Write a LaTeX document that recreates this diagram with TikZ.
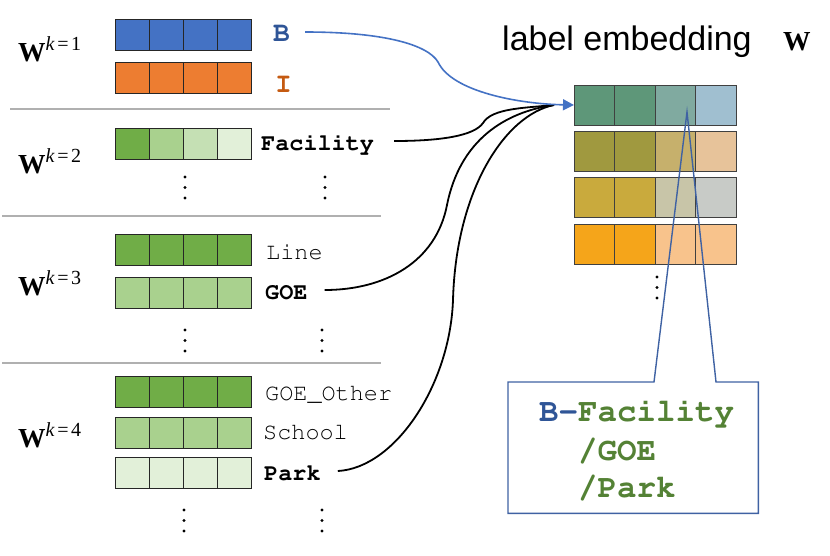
\documentclass[tikz,border=0pt]{standalone}
\usepackage{fix-cm}
\usepackage[T1]{fontenc}
\usepackage{fontspec}
\setsansfont{Liberation Sans}
\newfontfamily\wfont{Liberation Serif}
\usetikzlibrary{arrows.meta}
\newcommand\cour{\fontencoding{T1}\fontfamily{pcr}\selectfont}
\definecolor{gD}{HTML}{70AD47}
\definecolor{gM}{HTML}{A9D18E}
\definecolor{gL}{HTML}{C5E0B4}
\definecolor{gX}{HTML}{E2F0D9}
\definecolor{bB}{HTML}{4472C4}
\definecolor{oO}{HTML}{ED7D31}
\definecolor{tB}{HTML}{2F5597}
\definecolor{tO}{HTML}{C55A11}
\definecolor{tG}{HTML}{548235}
\definecolor{sep}{HTML}{B0B0B0}
\definecolor{cbl}{HTML}{3F62A3}
\definecolor{eA}{HTML}{5E9779}\definecolor{eB}{HTML}{80AAA0}\definecolor{eC}{HTML}{A0BFD0}
\definecolor{eD}{HTML}{A0993F}\definecolor{eE}{HTML}{C6B06C}\definecolor{eF}{HTML}{E7C39A}
\definecolor{eG}{HTML}{C9AA3D}\definecolor{eH}{HTML}{C8C5A8}\definecolor{eI}{HTML}{C8CBC7}
\definecolor{eJ}{HTML}{F5A51A}\definecolor{eK}{HTML}{F8C38C}
\newcommand\lrow[6]{\foreach \cc [count=\ii from 0] in {#3,#4,#5,#6}{\node[lcell, fill=\cc] (#1-\ii) at ({115+34*\ii},#2) {};}}
\newcommand\erow[6]{\foreach \cc [count=\ii from 0] in {#3,#4,#5,#6}{\node[ecell, fill=\cc] (#1-\ii) at ({574+40.5*\ii},#2) {};}}
\newcommand\vdts[2]{\foreach \dd in {0,10.5,21}{\fill (#1,#2+\dd) circle (1.6);}}
\newcommand\wk[1]{{\wfont\fontsize{27.5}{30}\selectfont\bfseries W}\raisebox{11pt}{\wfont\fontsize{20}{22}\selectfont\textit{k}\kern2.5pt=\kern2.5pt#1}}
\begin{document}
\begin{tikzpicture}[x=1pt,y=-1pt,
  lcell/.style={draw=black!85, line width=0.9pt, inner sep=0, outer sep=0, anchor=north west, minimum width=34pt, minimum height=31pt},
  ecell/.style={draw=black!75, line width=0.9pt, inner sep=0, outer sep=0, anchor=north west, minimum width=40.5pt, minimum height=40pt},
  lab/.style={font=\fontsize{23.5}{28}\cour, anchor=base west, inner sep=0},
  labb/.style={font=\fontsize{23.5}{28}\cour\bfseries, anchor=base west, inner sep=0},
  labB/.style={font=\fontsize{28}{30}\cour\bfseries, anchor=base west, inner sep=0},
  wlab/.style={anchor=base west, inner sep=0},
  clab/.style={font=\fontsize{32.5}{38}\cour\bfseries, anchor=base west, inner sep=0, text=tG},
  sepline/.style={draw=sep, line width=2pt},
  conn/.style={draw=black, line width=1.8pt},
  bconn/.style={draw=bB, line width=1.6pt, -{Triangle[length=11pt,width=11pt]}},
]
\useasboundingbox (0,0) rectangle (830,555);
% separators
\draw[sepline] (10,109) -- (390,109);
\draw[sepline] (2,216) -- (381,216);
\draw[sepline] (2,363) -- (381,363);
% W labels
\node[wlab] (w1) at (18,61) {\wk{1}};
\node[wlab] (w2) at (18,173) {\wk{2}};
\node[wlab] (w3) at (18,295) {\wk{3}};
\node[wlab] (w4) at (18,447) {\wk{4}};
% left rows
\lrow{rB}{19}{bB}{bB}{bB}{bB}
\lrow{rI}{62}{oO}{oO}{oO}{oO}
\lrow{rF}{128}{gD}{gM}{gL}{gX}
\lrow{rL}{234}{gD}{gD}{gD}{gD}
\lrow{rG}{277}{gM}{gM}{gM}{gM}
\lrow{rO}{376}{gD}{gD}{gD}{gD}
\lrow{rS}{417}{gM}{gM}{gM}{gM}
\lrow{rP}{457}{gX}{gX}{gX}{gX}
% left labels
\node[labB, text=tB] (tBl) at (273,41) {B};
\node[labB, text=tO] (tIl) at (275,92) {I};
\node[labb] (tFac) at (261,150) {Facility};
\node[lab] (tLine) at (266,259) {Line};
\node[labb] (tGOE) at (265,299) {GOE};
\node[lab] (tGO) at (265,400) {GOE\_Other};
\node[lab] (tSch) at (263,439) {School};
\node[labb] (tPark) at (264,480) {Park};
% dots
\vdts{185}{177}\vdts{325}{177}
\vdts{185}{330}\vdts{322}{330}
\vdts{184}{510}\vdts{322}{510}
% title
\node[font=\fontsize{34}{40}\selectfont\sffamily, anchor=base west, inner sep=0] (title) at (502,50) {label embedding};
\node[font=\wfont\fontsize{27.5}{30}\selectfont\bfseries, anchor=base west, inner sep=0] (tW) at (783,50) {W};
% embedding rows
\erow{e1}{85}{eA}{eA}{eB}{eC}
\erow{e2}{131}{eD}{eD}{eE}{eF}
\erow{e3}{177}{eG}{eG}{eH}{eI}
\erow{e4}{224}{eJ}{eJ}{eK}{eK}
\vdts{657}{277}
% callout
\node[fill=white, inner sep=0, minimum width=250pt, minimum height=131pt, anchor=north west] (box) at (508,382) {};
\draw[cbl, line width=1.4pt, line join=miter] (box.north west) -- (654,382) -- (687,112) -- (716,382) -- (box.north east) -- (box.south east) -- (box.south west) -- cycle;
\node[clab] (c1) at (539,421) {\textcolor{tB}{B-}Facility};
\node[clab] (c2) at (539,460) {\phantom{B-}/GOE};
\node[clab] (c3) at (539,497) {\phantom{B-}/Park};
% connectors
\coordinate (hub) at ([xshift=-20pt]e1-0.west);
\draw[conn] ([xshift=20pt,yshift=9pt]tFac.base east) .. controls (440,141) and (474,136) .. (483,123) .. controls (492,108) and (525,108) .. (hub);
\draw[conn] ([xshift=17pt,yshift=9pt]tGOE.base east) .. controls (385,290) and (436,262) .. (447,205) .. controls (460,140) and (505,112) .. (hub);
\draw[conn] ([xshift=17pt,yshift=9pt]tPark.base east) .. controls (395,468) and (450,385) .. (453,300) .. controls (456,190) and (505,115) .. (hub);
\draw[bconn] ([xshift=15pt,yshift=9pt]tBl.base east) .. controls (385,32) and (428,45) .. (438,62) .. controls (452,92) and (520,104) .. (e1-0.west);
\end{tikzpicture}
\end{document}
